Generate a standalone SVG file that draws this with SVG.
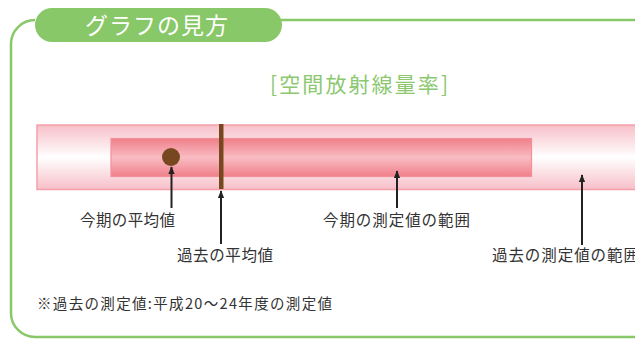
<svg xmlns="http://www.w3.org/2000/svg" width="635" height="351" viewBox="0 0 635 351">
<defs>
<linearGradient id="gOuter" x1="0" y1="0" x2="0" y2="1">
<stop offset="0" stop-color="#f7bfc8"/>
<stop offset="0.5" stop-color="#ffffff"/>
<stop offset="1" stop-color="#f7bfc8"/>
</linearGradient>
<linearGradient id="gInner" x1="0" y1="0" x2="0" y2="1">
<stop offset="0" stop-color="#f07f89"/>
<stop offset="0.5" stop-color="#f9bcc3"/>
<stop offset="1" stop-color="#f07f89"/>
</linearGradient>
<marker id="arr" viewBox="0 0 10 10" refX="9" refY="5" markerWidth="8" markerHeight="8" markerUnits="userSpaceOnUse" orient="auto">
<path d="M0,1 L10,5 L0,9 z" fill="#222"/>
</marker>
</defs>
<style>
.lbl{font-family:"Noto Sans CJK JP","Noto Sans",sans-serif;font-size:15.5px;fill:#333;}
.frame{fill:none;stroke:#88c868;stroke-width:2.5;}
.conn{stroke:#222;stroke-width:2;fill:none;marker-end:url(#arr);}
</style>
<rect width="635" height="351" fill="#ffffff"/>
<g id="frame">
<path class="frame" d="M35,20 A24,24 0 0 0 11,44 L11,313 A24,24 0 0 0 35,337 L640,337"/>
<line class="frame" x1="280" y1="20" x2="640" y2="20"/>
<rect x="35" y="8" width="247" height="34" rx="17" ry="17" fill="#88c868"/>
<text x="85" y="34" font-family="'Noto Sans CJK JP','Noto Sans',sans-serif" font-size="23" fill="#ffffff" textLength="143" lengthAdjust="spacing">グラフの見方</text>
</g>
<g id="title">
<text x="359" y="92" text-anchor="middle" font-family="'Noto Sans CJK JP','Noto Sans',sans-serif" font-size="21" fill="#8cc870" textLength="178" lengthAdjust="spacing">[空間放射線量率]</text>
</g>
<g id="past-range-bar">
<rect x="37" y="125" width="610" height="64.5" fill="url(#gOuter)" stroke="#f5a0aa" stroke-width="1.5"/>
</g>
<g id="current-range-bar">
<rect x="111" y="138.5" width="420.5" height="38" fill="url(#gInner)" stroke="#f2909a" stroke-width="1.2"/>
</g>
<g id="current-average">
<circle cx="171" cy="157" r="9" fill="#774820"/>
</g>
<g id="past-average">
<rect x="219" y="124" width="4.5" height="65" fill="#774820"/>
</g>
<g id="connectors">
<line class="conn" x1="171.5" y1="208" x2="171.5" y2="167"/>
<line class="conn" x1="221" y1="244" x2="221" y2="191"/>
<line class="conn" x1="397" y1="208" x2="397" y2="171"/>
<line class="conn" x1="582" y1="245" x2="582" y2="175"/>
</g>
<g id="label-current-average"><text class="lbl" x="80" y="226" textLength="95" lengthAdjust="spacing">今期の平均値</text></g>
<g id="label-past-average"><text class="lbl" x="177" y="261" textLength="96" lengthAdjust="spacing">過去の平均値</text></g>
<g id="label-current-range"><text class="lbl" x="323" y="226" textLength="147" lengthAdjust="spacing">今期の測定値の範囲</text></g>
<g id="label-past-range"><text class="lbl" x="492" y="261" textLength="147" lengthAdjust="spacing">過去の測定値の範囲</text></g>
<g id="footnote"><text x="37" y="309" font-family="'Noto Sans CJK JP','Noto Sans',sans-serif" font-size="14.5" fill="#333" textLength="295" lengthAdjust="spacing">※過去の測定値:平成20〜24年度の測定値</text></g>
</svg>
